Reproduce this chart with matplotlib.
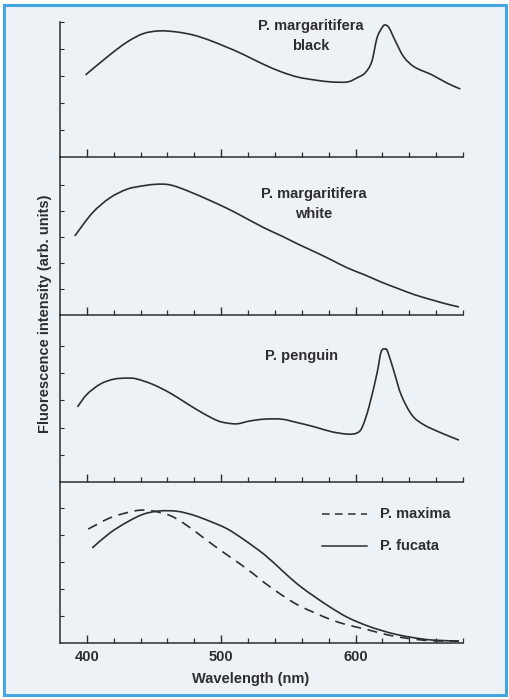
import matplotlib
matplotlib.use("Agg")
import matplotlib.pyplot as plt
from matplotlib.patches import Rectangle, PathPatch
from matplotlib.path import Path
from matplotlib.lines import Line2D

# ---------------- data ----------------
wl_black = [399, 417, 430, 442, 454, 467, 479, 491, 504, 516, 532, 545, 557, 570, 582,
            594, 601, 607, 612, 616, 620, 622, 625, 630, 636, 644, 657, 668, 678]
val_black = [3.04, 3.78, 4.26, 4.57, 4.67, 4.63, 4.52, 4.33, 4.07, 3.81, 3.42, 3.15, 2.96,
             2.85, 2.78, 2.78, 2.93, 3.11, 3.52, 4.41, 4.81, 4.89, 4.78, 4.26, 3.70, 3.33,
             3.04, 2.74, 2.52]

wl_white = [391, 404, 417, 430, 442, 452, 460, 467, 479, 491, 504, 516, 532, 545, 557,
            570, 582, 594, 607, 619, 631, 644, 657, 668, 677]
val_white = [3.04, 3.92, 4.50, 4.84, 4.97, 5.03, 5.02, 4.93, 4.69, 4.42, 4.11, 3.79, 3.35,
             3.04, 2.73, 2.42, 2.12, 1.81, 1.54, 1.27, 1.03, 0.78, 0.58, 0.42, 0.31]

wl_penguin = [393, 400, 410, 420, 430, 437, 449, 462, 474, 486, 497, 504, 512, 521, 532,
              545, 557, 570, 582, 594, 601, 605, 610, 616, 619, 622, 624, 629, 634, 642,
              651, 664, 677]
val_penguin = [2.76, 3.22, 3.60, 3.78, 3.82, 3.79, 3.59, 3.27, 2.90, 2.54, 2.26, 2.17,
               2.14, 2.24, 2.31, 2.31, 2.18, 2.02, 1.85, 1.76, 1.80, 2.02, 2.76, 4.00,
               4.78, 4.89, 4.78, 4.00, 3.20, 2.46, 2.10, 1.80, 1.54]

wl_maxima = [401, 417, 430, 440, 449, 462, 474, 486, 499, 512, 524, 532, 545, 557, 570,
             582, 594, 607, 619, 631, 644, 657, 677]
val_maxima = [4.22, 4.63, 4.83, 4.92, 4.89, 4.72, 4.37, 3.93, 3.45, 3.00, 2.56, 2.24,
              1.78, 1.41, 1.11, 0.86, 0.67, 0.52, 0.36, 0.23, 0.14, 0.08, 0.07]

wl_fucata = [404, 417, 430, 442, 454, 467, 479, 491, 504, 516, 532, 545, 557, 570, 582,
             594, 607, 619, 631, 644, 657, 677]
val_fucata = [3.52, 4.07, 4.48, 4.77, 4.89, 4.88, 4.74, 4.52, 4.24, 3.86, 3.28, 2.70,
              2.17, 1.70, 1.30, 0.95, 0.67, 0.47, 0.31, 0.19, 0.11, 0.07]

major_ticks = [400, 500, 600]
minor_ticks = [420, 440, 460, 480, 520, 540, 560, 580, 620, 640, 660, 680]
y_ticks = [1, 2, 3, 4, 5]

label_black = "P. margaritifera\nblack"
label_white = "P. margaritifera\nwhite"
label_penguin = "P. penguin"
label_maxima = "P. maxima"
label_fucata = "P. fucata"
xlabel = "Wavelength (nm)"
ylabel = "Fluorescence intensity (arb. units)"

# ---------------- figure ----------------
W, H = 510, 699
BG = "#edf2f7"
INK = "#2e2e2e"
plt.rcParams["font.family"] = ["Liberation Sans", "DejaVu Sans"]

fig = plt.figure(figsize=(W / 100, H / 100), dpi=100)
fig.patch.set_facecolor("white")
fig.patches.append(Rectangle((4 / W, 4 / H), (W - 8) / W, (H - 9) / H,
                             transform=fig.transFigure, facecolor=BG,
                             edgecolor="#45a6e0", linewidth=2.2, zorder=-10))

left_px, right_px = 60, 463
# (top px, bottom px, unit px)
panels = [(22, 157, 27.0), (157, 315, 26.0), (315, 482, 27.2), (482, 643, 27.0)]
axes = []
for (t, b, u) in panels:
    ax = fig.add_axes([left_px / W, 1 - b / H, (right_px - left_px) / W, (b - t) / H])
    ax.set_facecolor("none")
    ax.set_zorder(5)
    ax.set_xlim(380, 680)
    ax.set_ylim(0, (b - t) / u)
    for s in ("top", "right"):
        ax.spines[s].set_visible(False)
    for s in ("left", "bottom"):
        ax.spines[s].set_color(INK)
        ax.spines[s].set_linewidth(1.1)
    ax.set_xticks(major_ticks)
    ax.set_xticks(minor_ticks, minor=True)
    ax.set_yticks(y_ticks)
    ax.tick_params(axis="x", which="major", direction="in", length=6, width=1.0,
                   color=INK, labelbottom=False)
    ax.tick_params(axis="x", which="minor", direction="in", length=3.5, width=0.9,
                   color=INK)
    ax.tick_params(axis="y", direction="in", length=3, width=0.8, color=INK,
                   labelleft=False)
    axes.append(ax)


def smooth_curve(ax, xs, ys, **kw):
    """Draw a smooth (cubic Bezier) curve passing through the read points."""
    pts = list(zip(xs, ys))
    n = len(pts)
    verts = [pts[0]]
    codes = [Path.MOVETO]
    for i in range(n - 1):
        p0 = pts[i - 1] if i > 0 else pts[i]
        p1 = pts[i]
        p2 = pts[i + 1]
        p3 = pts[i + 2] if i + 2 < n else pts[i + 1]
        c1 = (p1[0] + (p2[0] - p0[0]) / 6, p1[1] + (p2[1] - p0[1]) / 6)
        c2 = (p2[0] - (p3[0] - p1[0]) / 6, p2[1] - (p3[1] - p1[1]) / 6)
        verts += [c1, c2, p2]
        codes += [Path.CURVE4] * 3
    patch = PathPatch(Path(verts, codes), fill=False, transform=ax.transData,
                      clip_on=False, **kw)
    ax.add_patch(patch)


lw = 1.2
smooth_curve(axes[0], wl_black, val_black, edgecolor=INK, lw=lw)
smooth_curve(axes[1], wl_white, val_white, edgecolor=INK, lw=lw)
smooth_curve(axes[2], wl_penguin, val_penguin, edgecolor=INK, lw=lw)
smooth_curve(axes[3], wl_maxima, val_maxima, edgecolor=INK, lw=lw, ls=(0, (6, 4)))
smooth_curve(axes[3], wl_fucata, val_fucata, edgecolor=INK, lw=lw)

axes[3].tick_params(axis="x", which="major", labelbottom=True, pad=5, labelsize=10.5,
                    labelcolor=INK)
for lab in axes[3].get_xticklabels():
    lab.set_fontweight("bold")

tkw = dict(fontsize=10.5, fontweight="bold", color=INK, ha="center", va="center",
           linespacing=1.55)
fig.text(311 / W, 1 - 36 / H, label_black, **tkw)
fig.text(314 / W, 1 - 204 / H, label_white, **tkw)
fig.text(302 / W, 1 - 356 / H, label_penguin, **tkw)

# legend in the bottom panel
for (y, ls, txt) in [(514, (0, (5, 3.5)), label_maxima), (546, "-", label_fucata)]:
    fig.add_artist(Line2D([322 / W, 367 / W], [1 - y / H, 1 - y / H], color=INK,
                          lw=1.1, ls=ls, transform=fig.transFigure))
    fig.text(380 / W, 1 - y / H, txt, fontsize=10.5, fontweight="bold", color=INK,
             ha="left", va="center")

fig.text(251 / W, 1 - 679 / H, xlabel, fontsize=10.5, fontweight="bold", color=INK,
         ha="center", va="center")
fig.text(45 / W, 1 - 314 / H, ylabel, fontsize=10.5, fontweight="bold", color=INK,
         ha="center", va="center", rotation=90)

fig.savefig("out.png", dpi=100, facecolor=fig.get_facecolor())
